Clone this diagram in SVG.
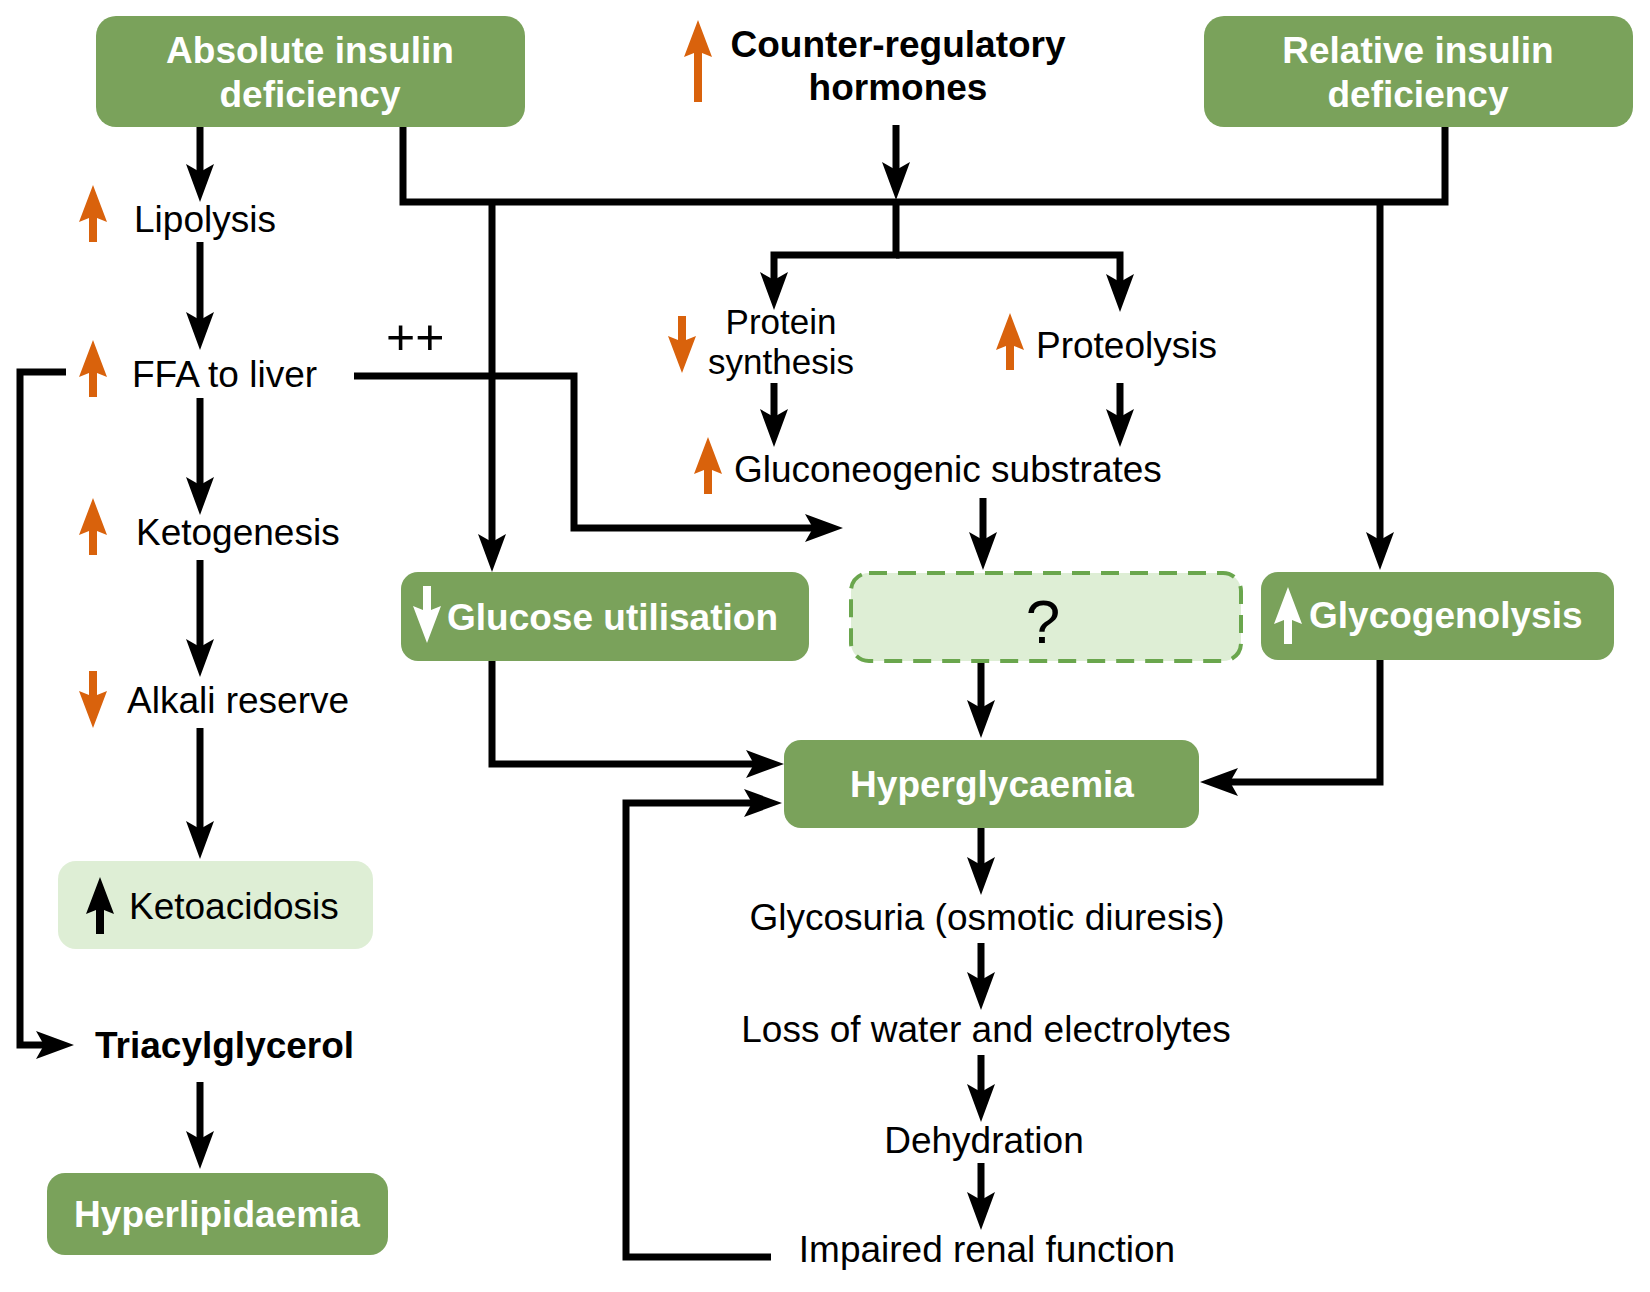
<svg xmlns="http://www.w3.org/2000/svg" width="1650" height="1292" viewBox="0 0 1650 1292">
<defs>
<style>
.box{fill:#7aa25b}
.light{fill:#deeed5}
.dash{fill:#deeed5;stroke:#6aa64d;stroke-width:4;stroke-dasharray:18 11}
.t{font-family:"Liberation Sans",Arial,sans-serif;font-size:37px;fill:#000}
.b{font-family:"Liberation Sans",Arial,sans-serif;font-size:37px;font-weight:bold}
.w{fill:#fff}
.k{fill:#000}
.c{text-anchor:middle}
.or{fill:#d9620c}
.ln{fill:none;stroke:#000;stroke-width:7;stroke-linejoin:miter}
.ar{marker-end:url(#ah)}
</style>
<marker id="ah" viewBox="0 0 38 28" refX="10" refY="14" markerWidth="38" markerHeight="28" markerUnits="userSpaceOnUse" orient="auto">
<path d="M0,0 L38,14 L0,28 L8,14 Z" fill="#000"/>
</marker>
<path id="up" d="M0,0 L14,37 L4,33 L4,57 L-4,57 L-4,33 L-14,37 Z"/>
<path id="down" d="M0,0 L14,-37 L4,-33 L4,-57 L-4,-57 L-4,-33 L-14,-37 Z"/>
</defs>
<rect width="1650" height="1292" fill="#fff"/>

<g id="connectors">
<path class="ln ar" d="M200,127 V174"/>
<path class="ln ar" d="M200,242 V322"/>
<path class="ln ar" d="M200,398 V487"/>
<path class="ln ar" d="M200,560 V649"/>
<path class="ln ar" d="M200,728 V831"/>
<path class="ln ar" d="M200,1082 V1141"/>
<path class="ln ar" d="M66,372 H20 V1045 H46"/>
<path class="ln" d="M403,127 V202 H1445 V127"/>
<path class="ln ar" d="M896,125 V172"/>
<path class="ln ar" d="M492,202 V544"/>
<path class="ln ar" d="M1380,202 V542"/>
<path class="ln ar" d="M896,202 V255 H774 V282"/>
<path class="ln ar" d="M896,255 H1120 V284"/>
<path class="ln ar" d="M774,383 V419"/>
<path class="ln ar" d="M1120,383 V419"/>
<path class="ln ar" d="M354,376 H574 V528 H815"/>
<path class="ln ar" d="M983,498 V542"/>
<path class="ln ar" d="M981,661 V710"/>
<path class="ln ar" d="M492,661 V764 H756"/>
<path class="ln ar" d="M1380,660 V782 H1228"/>
<path class="ln ar" d="M771,1257 H626 V803 H754"/>
<path class="ln ar" d="M981,828 V867"/>
<path class="ln ar" d="M981,943 V982"/>
<path class="ln ar" d="M981,1055 V1094"/>
<path class="ln ar" d="M981,1163 V1202"/>
</g>

<g id="absolute">
<rect class="box" x="96" y="16" width="429" height="111" rx="20"/>
<text class="b w c" x="310" y="63">Absolute insulin</text>
<text class="b w c" x="310" y="107">deficiency</text>
</g>

<g id="counter">
<path class="or" d="M698,20 L712,57 L702,53 L702,102 L694,102 L694,53 L684,57 Z"/>
<text class="b k c" x="898" y="57">Counter-regulatory</text>
<text class="b k c" x="898" y="100">hormones</text>
</g>

<g id="relative">
<rect class="box" x="1204" y="16" width="429" height="111" rx="20"/>
<text class="b w c" x="1418" y="63">Relative insulin</text>
<text class="b w c" x="1418" y="107">deficiency</text>
</g>

<g id="lipolysis">
<use href="#up" class="or" x="93" y="185"/>
<text class="t" x="134" y="232">Lipolysis</text>
</g>

<g id="ffa">
<use href="#up" class="or" x="93" y="340"/>
<text class="t" x="132" y="387">FFA to liver</text>
</g>

<g id="plusplus">
<text class="t" x="386" y="354" style="font-size:50px">++</text>
</g>

<g id="ketogenesis">
<use href="#up" class="or" x="93" y="498"/>
<text class="t" x="136" y="545">Ketogenesis</text>
</g>

<g id="alkali">
<use href="#down" class="or" x="93" y="728"/>
<text class="t" x="127" y="713">Alkali reserve</text>
</g>

<g id="ketoacidosis">
<rect class="light" x="58" y="861" width="315" height="88" rx="18"/>
<use href="#up" class="k" x="100" y="877"/>
<text class="t" x="129" y="919">Ketoacidosis</text>
</g>

<g id="triacylglycerol">
<text class="b k" x="95" y="1058">Triacylglycerol</text>
</g>

<g id="hyperlipidaemia">
<rect class="box" x="47" y="1173" width="341" height="82" rx="18"/>
<text class="b w c" x="217" y="1227">Hyperlipidaemia</text>
</g>

<g id="protein-synthesis">
<use href="#down" class="or" x="682" y="373"/>
<text class="t c" style="font-size:35px"><tspan x="781" y="334">Protein</tspan><tspan x="781" y="374">synthesis</tspan></text>
</g>

<g id="proteolysis">
<use href="#up" class="or" x="1010" y="313"/>
<text class="t" x="1036" y="358">Proteolysis</text>
</g>

<g id="gluconeogenic">
<use href="#up" class="or" x="708" y="437"/>
<text class="t" x="734" y="482">Gluconeogenic substrates</text>
</g>

<g id="glucose-utilisation">
<rect class="box" x="401" y="572" width="408" height="89" rx="17"/>
<use href="#down" class="w" x="427" y="643"/>
<text class="b w" x="447" y="630">Glucose utilisation</text>
</g>

<g id="unknown">
<rect class="dash" x="851" y="573" width="390" height="88" rx="18"/>
<text class="t c" x="1043" y="643" style="font-size:62px">?</text>
</g>

<g id="glycogenolysis">
<rect class="box" x="1261" y="572" width="353" height="88" rx="17"/>
<use href="#up" class="w" x="1288" y="587"/>
<text class="b w" x="1309" y="628">Glycogenolysis</text>
</g>

<g id="hyperglycaemia">
<rect class="box" x="784" y="740" width="415" height="88" rx="17"/>
<text class="b w c" x="992" y="797">Hyperglycaemia</text>
</g>

<g id="glycosuria">
<text class="t c" x="987" y="930">Glycosuria (osmotic diuresis)</text>
</g>
<g id="loss">
<text class="t c" x="986" y="1042">Loss of water and electrolytes</text>
</g>
<g id="dehydration">
<text class="t c" x="984" y="1153">Dehydration</text>
</g>
<g id="renal">
<text class="t c" x="987" y="1262">Impaired renal function</text>
</g>
</svg>
